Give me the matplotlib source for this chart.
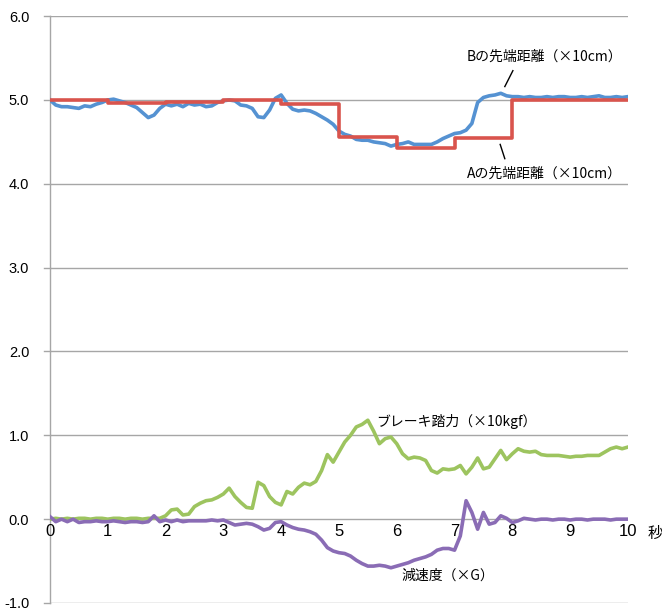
import numpy as np
import matplotlib.pyplot as plt

JP = ["Noto Sans CJK JP", "DejaVu Sans"]
NUM = ["Liberation Sans", "DejaVu Sans"]

# sample times, seconds (0.1 s steps)
times = np.round(np.arange(101) * 0.1, 1)

# B distance (x10cm), blue
dist_b = [
    5.00, 4.94, 4.92, 4.92, 4.91, 4.90, 4.93, 4.92, 4.95, 4.97,
    5.00, 5.01, 4.99, 4.97, 4.94, 4.91, 4.85, 4.79, 4.82, 4.90,
    4.95, 4.93, 4.95, 4.92, 4.96, 4.94, 4.95, 4.92, 4.93, 4.97,
    4.99, 5.00, 4.99, 4.94, 4.93, 4.90, 4.80, 4.79, 4.88, 5.02,
    5.06, 4.96, 4.89, 4.87, 4.88, 4.87, 4.84, 4.80, 4.76, 4.71,
    4.63, 4.59, 4.57, 4.53, 4.52, 4.52, 4.50, 4.49, 4.48, 4.45,
    4.47, 4.48, 4.50, 4.47, 4.47, 4.47, 4.47, 4.50, 4.54, 4.57,
    4.60, 4.61, 4.64, 4.72, 4.97, 5.03, 5.05, 5.06, 5.08, 5.05,
    5.04, 5.04, 5.03, 5.04, 5.03, 5.03, 5.04, 5.03, 5.04, 5.04,
    5.03, 5.03, 5.04, 5.03, 5.04, 5.05, 5.03, 5.03, 5.04, 5.03,
    5.04,
]

# A distance (x10cm), red, stepwise
a_times = [0, 1, 2, 3, 4, 5, 6, 7, 8, 10]
dist_a = [5.00, 4.96, 4.98, 5.00, 4.95, 4.56, 4.43, 4.55, 5.00, 5.00]

# brake pedal force (x10kgf), green
brake = [
    0.00, 0.01, 0.00, 0.01, 0.00, 0.01, 0.01, 0.00, 0.01, 0.01,
    0.00, 0.01, 0.01, 0.00, 0.01, 0.01, 0.00, 0.01, 0.01, 0.01,
    0.04, 0.11, 0.12, 0.05, 0.06, 0.15, 0.19, 0.22, 0.23, 0.26,
    0.30, 0.37, 0.27, 0.20, 0.14, 0.13, 0.44, 0.40, 0.27, 0.20,
    0.17, 0.33, 0.30, 0.38, 0.43, 0.41, 0.45, 0.58, 0.77, 0.68,
    0.80, 0.92, 1.00, 1.10, 1.13, 1.18, 1.05, 0.90, 0.96, 0.98,
    0.90, 0.78, 0.72, 0.74, 0.73, 0.70, 0.58, 0.55, 0.60, 0.59,
    0.60, 0.64, 0.54, 0.62, 0.73, 0.60, 0.62, 0.72, 0.82, 0.71,
    0.78, 0.84, 0.81, 0.80, 0.81, 0.77, 0.76, 0.76, 0.76, 0.75,
    0.74, 0.75, 0.75, 0.76, 0.76, 0.76, 0.80, 0.84, 0.86, 0.84,
    0.86,
]

# deceleration (xG), purple
decel = [
    0.03, -0.03, 0.00, -0.03, 0.00, -0.04, -0.03, -0.03, -0.02, -0.03,
    -0.03, -0.02, -0.03, -0.04, -0.03, -0.03, -0.04, -0.03, 0.04, -0.03,
    -0.01, -0.03, -0.01, -0.03, -0.02, -0.02, -0.02, -0.02, -0.01, -0.02,
    -0.01, -0.04, -0.07, -0.06, -0.05, -0.06, -0.09, -0.13, -0.11, -0.04,
    -0.03, -0.07, -0.10, -0.12, -0.13, -0.15, -0.18, -0.25, -0.34, -0.38,
    -0.40, -0.41, -0.44, -0.49, -0.53, -0.56, -0.56, -0.55, -0.56, -0.58,
    -0.56, -0.54, -0.52, -0.49, -0.47, -0.45, -0.42, -0.37, -0.35, -0.35,
    -0.37, -0.20, 0.22, 0.08, -0.12, 0.08, -0.06, -0.04, 0.04, 0.01,
    -0.04, -0.02, 0.01, 0.00, -0.01, 0.00, 0.00, -0.01, 0.00, 0.00,
    -0.01, 0.00, 0.00, -0.01, 0.00, 0.00, 0.00, -0.01, 0.00, 0.00,
    0.00,
]

y_ticks = [6.0, 5.0, 4.0, 3.0, 2.0, 1.0, 0.0, -1.0]
x_ticks = list(range(11))

GRID = "#a6a6a6"

fig = plt.figure(figsize=(6.62, 6.10), dpi=100)
ax = fig.add_axes([0.0755, 0.0115, 0.873, 0.962])
ax.set_xlim(0, 10)
ax.set_ylim(-1.0, 6.0)

for y in y_ticks:
    ax.axhline(y, color=GRID, lw=1.0, zorder=1)
    ax.plot([-0.1, 0], [y, y], color=GRID, lw=1.0, clip_on=False, zorder=1)

for s in ["top", "right", "bottom"]:
    ax.spines[s].set_visible(False)
ax.spines["left"].set_color(GRID)
ax.spines["left"].set_linewidth(1.0)

ax.set_yticks(y_ticks)
ax.set_yticklabels([f"{v:.1f}" for v in y_ticks], fontfamily=NUM, fontsize=10.5)
ax.tick_params(axis="y", length=0, pad=15)
ax.set_xticks([])

for x in x_ticks:
    ax.text(x, -0.06, str(x), ha="center", va="top", fontfamily=NUM, fontsize=12)
ax.text(10.47, -0.07, "秒", ha="center", va="top", fontfamily=JP, fontsize=11,
        clip_on=False)

lw = 2.6
ax.plot(times, brake, color="#9dc45f", lw=lw, zorder=3, solid_joinstyle="round")
ax.plot(times, decel, color="#8a6cb5", lw=lw, zorder=3, solid_joinstyle="round")
ax.plot(times, dist_b, color="#5592d2", lw=lw, zorder=3, solid_joinstyle="round")
ax.plot(a_times, dist_a, color="#d9544d", lw=lw, zorder=4, drawstyle="steps-post")

# labels with leader lines
ax.text(8.56, 5.52, "Bの先端距離（×10cm）", ha="center", va="center",
        fontfamily=JP, fontsize=10)
ax.plot([8.01, 7.87], [5.35, 5.16], color="black", lw=1.0)
ax.text(8.56, 4.12, "Aの先端距離（×10cm）", ha="center", va="center",
        fontfamily=JP, fontsize=10)
ax.plot([7.79, 7.87], [4.47, 4.30], color="black", lw=1.0)
ax.text(7.04, 1.16, "ブレーキ踏力（×10kgf）", ha="center", va="center",
        fontfamily=JP, fontsize=10)
ax.text(6.89, -0.67, "減速度（×G）", ha="center", va="center",
        fontfamily=JP, fontsize=10)

fig.savefig("out.png", dpi=100)
